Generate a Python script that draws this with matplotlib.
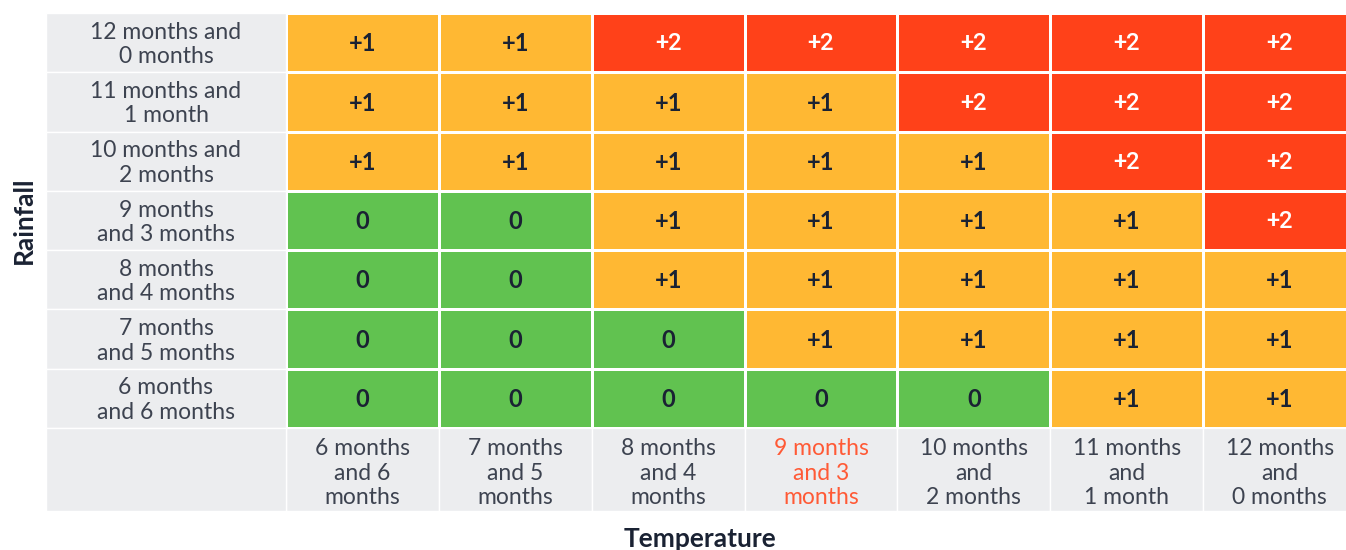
import matplotlib
matplotlib.use("Agg")
import matplotlib.pyplot as plt
import numpy as np
from matplotlib.colors import ListedColormap
from matplotlib.patches import Rectangle

rain_labels = ["12 months and\n0 months", "11 months and\n1 month", "10 months and\n2 months",
               "9 months\nand 3 months", "8 months\nand 4 months", "7 months\nand 5 months",
               "6 months\nand 6 months"]
temp_labels = ["6 months\nand 6\nmonths", "7 months\nand 5\nmonths", "8 months\nand 4\nmonths",
               "9 months\nand 3\nmonths", "10 months\nand\n2 months", "11 months\nand\n1 month",
               "12 months\nand\n0 months"]
# rows from top (12 & 0) to bottom (6 & 6)
scores = [[1, 1, 2, 2, 2, 2, 2],
          [1, 1, 1, 1, 2, 2, 2],
          [1, 1, 1, 1, 1, 2, 2],
          [0, 0, 1, 1, 1, 1, 2],
          [0, 0, 1, 1, 1, 1, 1],
          [0, 0, 0, 1, 1, 1, 1],
          [0, 0, 0, 0, 0, 1, 1]]
highlight_col = 3

green, orange, red = "#61c250", "#ffb833", "#ff4119"
grey = "#ecedef"
label_col = "#3d4350"
dark = "#1a2233"

W, H = 1346, 550
fig = plt.figure(figsize=(W / 100, H / 100), dpi=100)
ax = fig.add_axes([46 / W, (H - 511) / H, (1356 - 46) / W, (511 - 13) / H])
cw = (1356 - 286) / 7
rh = (428 - 13) / 7
lw = 240 / cw
bh = 83 / rh
ax.set_xlim(-lw, 7)
ax.set_ylim(-bh, 7)
ax.axis("off")

n = len(scores)
mat = np.array(scores)[::-1]
ax.pcolormesh(np.arange(8), np.arange(8), mat, cmap=ListedColormap([green, orange, red]),
              vmin=-0.5, vmax=2.5, edgecolors="white", linewidth=1.0)

# grey label cells
for i in range(n):
    ax.add_patch(Rectangle((-lw, n - 1 - i), lw, 1, facecolor=grey, edgecolor="white", lw=1.0))
for j in range(7):
    ax.add_patch(Rectangle((j, -bh), 1, bh, facecolor=grey, edgecolor="white", lw=1.0))
ax.add_patch(Rectangle((-lw, -bh), lw, bh, facecolor=grey, edgecolor="white", lw=1.0))

for i, row in enumerate(scores):
    y = n - 1 - i + 0.5
    ax.text(-lw / 2, y - 0.03, rain_labels[i], ha="center", va="center", fontsize=16.5,
            family="Lato", color=label_col, linespacing=1.2)
    for j, v in enumerate(row):
        if v == 2:
            ax.text(j + 0.5, y - 0.02, "+2", ha="center", va="center", fontsize=17,
                    family="Roboto", fontweight="medium", color="white")
        else:
            ax.text(j + 0.5, y - 0.02, "+1" if v == 1 else "0", ha="center", va="center",
                    fontsize=17, family="Lato", fontweight="bold", color=dark)

for j, lab in enumerate(temp_labels):
    ax.text(j + 0.5, -bh / 2 - 0.06, lab, ha="center", va="center", fontsize=16.5,
            family="Lato", linespacing=1.2,
            color="#ff5a36" if j == highlight_col else label_col)

fig.text(24 / W, 1 - 220 / H, "Rainfall", rotation=90, ha="center", va="center",
         fontsize=19, family="Lato", fontweight="bold", color=dark)
fig.text(700 / W, 1 - 539 / H, "Temperature", ha="center", va="center",
         fontsize=19, family="Lato", fontweight="bold", color=dark)

fig.savefig("out.png", dpi=100)
